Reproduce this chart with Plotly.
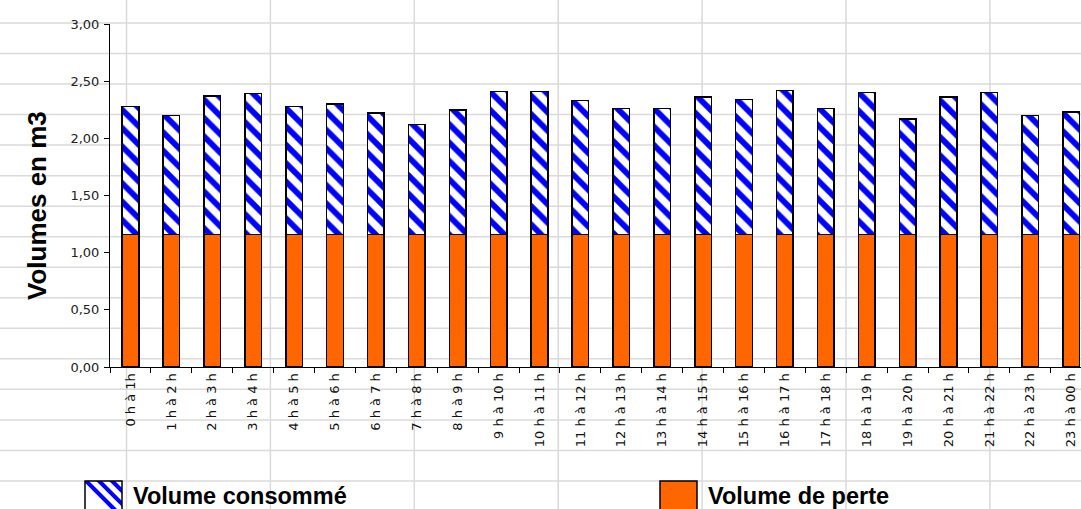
import plotly.graph_objects as go

# ---------------- data ----------------
hours = ["0 h à 1h", "1 h à 2 h", "2 h à 3 h", "3 h à 4 h", "4 h à 5 h", "5 h à 6 h",
         "6 h à 7 h", "7 h à 8 h", "8 h à 9 h", "9 h à 10 h", "10 h à 11 h", "11 h à 12 h",
         "12 h à 13 h", "13 h à 14 h", "14 h à 15 h", "15 h à 16 h", "16 h à 17 h",
         "17 h à 18 h", "18 h à 19 h", "19 h à 20 h", "20 h à 21 h", "21 h à 22 h",
         "22 h à 23 h", "23 h à 00 h"]
volume_perte = [1.16, 1.16, 1.16, 1.16, 1.16, 1.16, 1.16, 1.16, 1.16, 1.16, 1.16, 1.16,
                1.16, 1.16, 1.16, 1.16, 1.16, 1.16, 1.16, 1.16, 1.16, 1.16, 1.16, 1.16]
volume_consomme = [1.12, 1.04, 1.21, 1.23, 1.12, 1.14, 1.06, 0.96, 1.09, 1.25, 1.25, 1.17,
                   1.10, 1.10, 1.20, 1.18, 1.26, 1.10, 1.24, 1.01, 1.20, 1.24, 1.04, 1.07]
y_ticks = [0, 0.5, 1.0, 1.5, 2.0, 2.5, 3.0]

# ---------------- geometry (pixels) ----------------
FW, FH = 1081, 509
L, R, T, B = 110, 1081, 24, 367
W, H = R - L, B - T

def px(x):
    return (x - L) / W

def py(y):
    return (B - y) / H

ORANGE = "#ff6600"
BLUE = "#0000ff"
GRID = "#dadada"

fig = go.Figure()
fig.add_trace(go.Bar(
    x=hours, y=volume_perte, name="Volume de perte",
    marker=dict(color=ORANGE, line=dict(color="black", width=1.5)),
    showlegend=False))
fig.add_trace(go.Bar(
    x=hours, y=volume_consomme, name="Volume consommé",
    marker=dict(color="white",
                pattern=dict(shape="\\", fgcolor=BLUE, bgcolor="white", fgopacity=1,
                             size=13, solidity=0.45, fillmode="replace"),
                line=dict(color="black", width=1.5)),
    showlegend=False))

shapes = []
# spreadsheet cell grid behind the chart
for k in range(16):
    y = 23 + 30.53 * k
    shapes.append(dict(type="line", xref="paper", yref="paper", x0=px(0), x1=px(FW),
                       y0=py(y), y1=py(y), line=dict(color=GRID, width=1.5), layer="below"))
for k in range(7):
    x = 126.5 + 143.9 * k
    shapes.append(dict(type="line", xref="paper", yref="paper", x0=px(x), x1=px(x),
                       y0=py(0), y1=py(FH), line=dict(color=GRID, width=1.5), layer="below"))

# ---------------- custom legend swatches ----------------
def clip(poly, x0, x1, y0, y1):
    def clip_edge(pts, inside, inter):
        out = []
        n = len(pts)
        for i in range(n):
            cur, prev = pts[i], pts[i - 1]
            if inside(cur):
                if not inside(prev):
                    out.append(inter(prev, cur))
                out.append(cur)
            elif inside(prev):
                out.append(inter(prev, cur))
        return out

    def ix(xc):
        return lambda p, q: (xc, p[1] + (q[1] - p[1]) * (xc - p[0]) / (q[0] - p[0]))

    def iy(yc):
        return lambda p, q: (p[0] + (q[0] - p[0]) * (yc - p[1]) / (q[1] - p[1]), yc)

    pts = poly
    pts = clip_edge(pts, lambda p: p[0] >= x0, ix(x0)) if pts else pts
    pts = clip_edge(pts, lambda p: p[0] <= x1, ix(x1)) if pts else pts
    pts = clip_edge(pts, lambda p: p[1] >= y0, iy(y0)) if pts else pts
    pts = clip_edge(pts, lambda p: p[1] <= y1, iy(y1)) if pts else pts
    return pts

def path_of(pts):
    return "M" + " L".join(f"{px(x):.5f},{py(y):.5f}" for x, y in pts) + " Z"

# hatched swatch
SX0, SX1, SY0, SY1 = 85, 122, 481, 515
shapes.append(dict(type="rect", xref="paper", yref="paper", x0=px(SX0), x1=px(SX1),
                   y0=py(SY1), y1=py(SY0), fillcolor="white", line=dict(width=0), layer="above"))
period, band = 13, 13 * 0.45
c = -160.0
while c < 0:
    c1, c2 = c, c + band
    xa, xb = SX0 - 60, SX1 + 60
    off = SY0 - SX0
    poly = [(xa, xa + c1 + off), (xb, xb + c1 + off),
            (xb, xb + c2 + off), (xa, xa + c2 + off)]
    cl = clip(poly, SX0, SX1, SY0, SY1)
    if len(cl) >= 3:
        shapes.append(dict(type="path", xref="paper", yref="paper", path=path_of(cl),
                           fillcolor=BLUE, line=dict(width=0), layer="above"))
    c += period
shapes.append(dict(type="rect", xref="paper", yref="paper", x0=px(SX0), x1=px(SX1),
                   y0=py(SY1), y1=py(SY0), fillcolor="rgba(0,0,0,0)",
                   line=dict(color="black", width=1.5), layer="above"))
# orange swatch
OX0, OX1 = 660, 697
shapes.append(dict(type="rect", xref="paper", yref="paper", x0=px(OX0), x1=px(OX1),
                   y0=py(SY1), y1=py(SY0), fillcolor=ORANGE,
                   line=dict(color="black", width=1.5), layer="above"))

annotations = [
    dict(text="Volume consommé", xref="paper", yref="paper", x=px(131), y=py(496),
         xanchor="left", yanchor="middle", showarrow=False,
         font=dict(family="Liberation Sans, Arial", size=23.5, color="black", weight="bold")),
    dict(text="Volume de perte", xref="paper", yref="paper", x=px(706), y=py(496),
         xanchor="left", yanchor="middle", showarrow=False,
         font=dict(family="Liberation Sans, Arial", size=23.5, color="black", weight="bold")),
    dict(text="Volumes en m3", xref="paper", yref="paper", x=px(37), y=py(206),
         xanchor="center", yanchor="middle", textangle=-90, showarrow=False,
         font=dict(family="Liberation Sans, Arial", size=26, color="black", weight="bold")),
]

fig.update_layout(
    width=FW, height=FH,
    margin=dict(l=L, r=FW - R, t=T, b=FH - B, pad=0),
    paper_bgcolor="white", plot_bgcolor="rgba(0,0,0,0)",
    barmode="stack", bargap=0.594,
    separators=", ",
    shapes=shapes, annotations=annotations,
    showlegend=False,
    xaxis=dict(type="category", categoryorder="array", categoryarray=hours,
               range=[-0.5, 23.24], tickson="boundaries", ticks="outside", ticklen=5,
               tickcolor="black", tickwidth=1, showline=True, linecolor="black", linewidth=1,
               showgrid=False, tickangle=-90, zeroline=False,
               tickfont=dict(family="DejaVu Sans", size=13, color="#111")),
    yaxis=dict(range=[0, 3], tickvals=y_ticks, tickformat=".2f", ticks="outside", ticklen=5,
               tickcolor="black", tickwidth=1, showline=True, linecolor="black", linewidth=1,
               showgrid=False, zeroline=False, ticklabelstandoff=2,
               tickfont=dict(family="DejaVu Sans", size=13, color="#222")),
)

fig.write_html("out.html", config={"displayModeBar": False},
               post_script="document.body.style.margin='0';document.body.style.overflow='hidden';")
